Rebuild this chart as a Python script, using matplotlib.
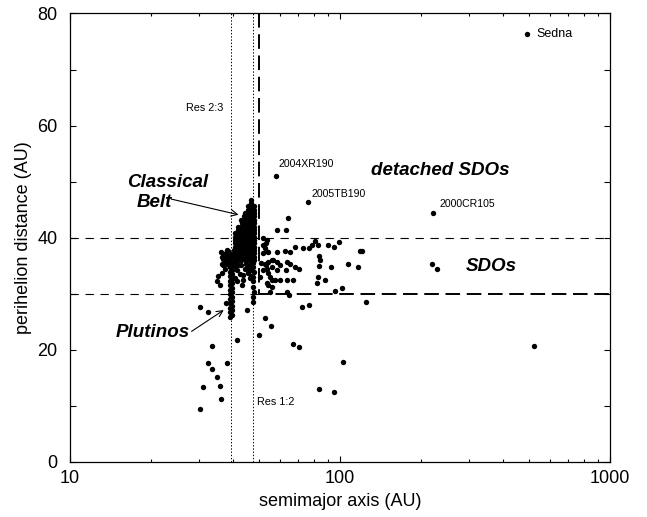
import matplotlib
matplotlib.use('Agg')
import matplotlib.pyplot as plt
from matplotlib.ticker import NullFormatter, FixedLocator

plt.rcParams['font.family'] = ['Liberation Sans', 'DejaVu Sans']
plt.rcParams['lines.scale_dashes'] = False

# region boundaries (AU)
res23 = 39.4
res12 = 47.7
a_detached = 50.0
q_low = 30.0
q_high = 40.0

# plutinos (2:3 resonance column)
plut_a = [39.3, 39.7, 39.3, 39.7, 39.3, 39.7, 39.3, 39.7, 39.3, 39.7,
          39.3, 39.7, 39.3, 39.7, 39.3, 39.7, 39.3, 39.7, 39.3, 39.7,
          39.3, 39.7, 39.3, 39.7, 39.3, 39.7, 39.3, 39.7, 39.5]
plut_q = [25.9, 26.3, 26.7, 27.1, 27.5, 27.9, 28.3, 28.7, 29.1, 29.5,
          29.9, 30.3, 30.7, 31.1, 31.5, 31.9, 32.3, 32.7, 33.1, 33.5,
          33.9, 34.3, 34.7, 35.1, 35.5, 35.9, 36.3, 36.7, 37.1]

# classical belt (dense part)
cb_a = [40.7, 40.9, 40.8, 40.6, 40.9, 40.8, 40.7, 40.9, 40.8,
        41.9, 41.8, 42.0, 41.9, 41.8, 42.0, 41.9, 41.8, 42.0, 41.9, 41.9,
        43.1, 43.0, 43.2, 43.1, 43.0, 43.2, 43.1, 43.0, 43.2, 43.1, 43.0, 43.2, 43.1,
        44.3, 44.2, 44.4, 44.3, 44.2, 44.4, 44.3, 44.2, 44.4, 44.3, 44.2, 44.4, 44.3, 44.2, 44.3,
        45.5, 45.4, 45.6, 45.5, 45.4, 45.6, 45.5, 45.4, 45.6, 45.5, 45.4, 45.6, 45.5, 45.4, 45.6, 45.5, 45.5,
        46.7, 46.6, 46.8, 46.7, 46.6, 46.8, 46.7, 46.6, 46.8, 46.7, 46.6, 46.8, 46.7, 46.6, 46.8, 46.7, 46.6, 46.8, 46.9,
        48.0, 47.9, 48.1, 48.0, 47.9, 48.1, 48.0, 47.9, 48.1, 48.0, 47.9, 48.1, 48.0, 47.9, 48.1, 48.0, 47.9]
cb_q = [36.0, 36.6, 37.2, 37.8, 38.4, 39.0, 39.6, 40.2, 40.8,
        36.0, 36.6, 37.2, 37.8, 38.4, 39.0, 39.6, 40.2, 40.8, 41.4, 42.0,
        36.0, 36.6, 37.2, 37.8, 38.4, 39.0, 39.6, 40.2, 40.8, 41.4, 42.0, 42.6, 43.2,
        36.0, 36.6, 37.2, 37.8, 38.4, 39.0, 39.6, 40.2, 40.8, 41.4, 42.0, 42.6, 43.2, 43.8, 44.4,
        36.0, 36.6, 37.2, 37.8, 38.4, 39.0, 39.6, 40.2, 40.8, 41.4, 42.0, 42.6, 43.2, 43.8, 44.4, 45.0, 45.6,
        36.0, 36.6, 37.2, 37.8, 38.4, 39.0, 39.6, 40.2, 40.8, 41.4, 42.0, 42.6, 43.2, 43.8, 44.4, 45.0, 45.6, 46.2, 46.8,
        36.0, 36.6, 37.2, 37.8, 38.4, 39.0, 39.6, 40.2, 40.8, 41.4, 42.0, 42.6, 43.2, 43.8, 44.4, 45.0, 45.6]

# 1:2 resonance column
r12_a = [47.8, 47.7, 47.9, 47.8, 47.7, 47.8, 47.9, 47.7, 47.8]
r12_q = [35.5, 34.8, 33.9, 33.0, 32.2, 31.3, 30.4, 29.5, 28.6]

# everything else
sc_a = [30.3, 32.4, 37.8, 45.1, 41.7, 38.1, 33.5, 32.4, 33.5, 35.1, 35.9, 31.0, 36.3, 30.3,
        34.9, 35.9, 35.2, 36.7, 37.0, 36.5, 37.8, 36.6, 37.4, 38.2, 36.9, 37.6, 38.4, 37.1,
        37.9, 38.6, 38.8, 37.5, 36.2, 38.3,
        42.0, 44.4, 42.6, 45.8, 41.4, 43.8, 40.8, 46.4, 43.3, 43.8, 45.8, 47.0, 41.0, 46.5,
        40.9, 43.0, 44.9, 46.8, 41.6,
        51.9, 53.4, 52.7, 54.2, 51.9, 55.9, 53.4, 51.9, 54.2, 55.9, 54.2, 54.9, 53.8, 51.7,
        53.1, 52.8, 54.2, 56.6, 58.3, 60.0, 53.8, 56.1, 58.3, 55.0, 57.4, 60.0, 55.9, 53.8,
        63.6, 67.0, 63.1, 68.1, 70.2, 63.6, 64.5, 63.6, 65.5, 50.8, 50.5,
        58.3, 63.1, 64.4,
        58.3, 62.8, 65.5, 68.0, 72.7, 76.7, 78.5, 80.8, 83.1, 90.0, 95.4, 98.9, 118.6, 120.7,
        107.3, 117.0, 83.7, 84.4, 83.7, 92.9, 83.1, 82.5, 88.2, 96.0, 101.6, 124.6, 72.1, 76.7,
        52.6, 55.3, 50.1, 67.0, 70.2, 103.0, 83.7, 95.4, 220.0, 229.0, 525.0]
sc_q = [27.7, 26.8, 28.3, 27.2, 21.7, 17.7, 20.7, 17.7, 16.6, 15.2, 13.6, 13.3, 11.3, 9.4,
        32.2, 31.6, 33.1, 33.7, 35.1, 36.6, 36.7, 35.4, 35.8, 35.3, 36.2, 36.4, 36.1, 37.1,
        37.3, 37.6, 36.8, 34.5, 37.4, 37.9,
        35.1, 34.5, 33.6, 33.8, 32.2, 32.5, 32.9, 32.8, 31.6, 33.4, 34.6, 33.1, 35.3, 35.2,
        35.0, 35.2, 35.3, 34.2, 34.3,
        39.9, 39.0, 38.1, 37.5, 37.2, 36.0, 35.1, 34.2, 33.7, 32.5, 31.6, 30.4, 39.6, 38.7,
        37.7, 35.4, 35.7, 36.0, 35.7, 35.1, 34.5, 34.8, 34.2, 33.0, 32.5, 32.5, 31.3, 31.9,
        32.5, 32.5, 34.2, 34.8, 34.5, 30.4, 29.8, 35.7, 35.4, 35.5, 33.0,
        41.3, 41.3, 43.6,
        37.5, 37.7, 37.5, 38.4, 38.1, 38.1, 38.7, 39.5, 38.7, 38.7, 38.4, 39.2, 37.7, 37.7,
        35.4, 34.7, 36.7, 36.0, 35.0, 34.7, 33.0, 32.0, 32.5, 30.5, 31.0, 28.6, 27.7, 28.0,
        25.6, 24.3, 22.7, 21.0, 20.6, 17.9, 13.1, 12.4, 35.3, 34.4, 20.7]

# named objects
names = ['Sedna', '2004XR190', '2005TB190', '2000CR105']
named_a = [494.0, 57.8, 76.0, 221.7]
named_q = [76.3, 51.1, 46.3, 44.4]
label_a = [535.0, 59.0, 78.6, 233.0]
label_q = [76.4, 53.1, 47.8, 46.0]
label_size = [9, 7.6, 7.6, 7.6]

fig = plt.figure(figsize=(6.47, 5.17), dpi=100)
ax = fig.add_axes([0.1082, 0.1064, 0.8346, 0.8675])

dot = dict(s=15, c='black', linewidths=0, zorder=3)
ax.scatter(plut_a, plut_q, **dot)
ax.scatter(cb_a, cb_q, **dot)
ax.scatter(r12_a, r12_q, **dot)
ax.scatter(sc_a, sc_q, **dot)
ax.scatter(named_a, named_q, **dot)

for n, x, y, fs in zip(names, label_a, label_q, label_size):
    ax.text(x, y, n, fontsize=fs, ha='left', va='center')

# resonance lines
ax.axvline(res23, color='black', lw=0.7, ls=(0, (1, 1.3)), zorder=2)
ax.axvline(res12, color='black', lw=0.7, ls=(0, (1, 1.3)), zorder=2)
ax.text(36.9, 63.2, 'Res 2:3', fontsize=7.8, ha='right', va='center')
ax.text(49.3, 10.7, 'Res 1:2', fontsize=7.8, ha='left', va='center')

# SDO boundaries
ax.axhline(q_high, color='black', lw=0.8, ls=(0, (6, 4.8)), zorder=2)
ax.plot([10, a_detached], [q_low, q_low], color='black', lw=0.8, ls=(0, (6, 4.8)), zorder=2)
ax.plot([a_detached, a_detached, 1000], [80, q_low, q_low], color='black', lw=1.4,
        ls=(0, (10.5, 4.8)), zorder=2)

big = dict(fontsize=13.5, fontweight='bold', fontstyle='italic')
ax.text(22.9, 49.1, 'Classical', ha='center', va='baseline', **big)
ax.text(20.6, 45.5, 'Belt', ha='center', va='baseline', **big)
ax.text(20.2, 22.35, 'Plutinos', ha='center', va='baseline', **big)
ax.text(234.6, 51.2, 'detached SDOs', ha='center', va='baseline', **big)
ax.text(362, 34.1, 'SDOs', ha='center', va='baseline', **big)

arr = dict(arrowstyle='->', lw=0.8, color='black', shrinkA=0, shrinkB=0, mutation_scale=11)
ax.annotate('', xy=(42.1, 44.1), xytext=(23.7, 46.9), arrowprops=arr)
ax.annotate('', xy=(37.1, 27.1), xytext=(28.2, 23.3), arrowprops=arr)

ax.set_xscale('log')
ax.set_xlim(10, 1000)
ax.set_ylim(0, 80)
ax.xaxis.set_major_locator(FixedLocator([10, 100, 1000]))
ax.set_xticklabels(['10', '100', '1000'])
ax.xaxis.set_minor_formatter(NullFormatter())
ax.set_yticks([0, 20, 40, 60, 80])
ax.yaxis.set_minor_locator(FixedLocator([10, 30, 50, 70]))

ax.tick_params(which='both', direction='in', top=True, right=True, width=0.8, labelsize=13)
ax.tick_params(axis='x', which='major', length=4.5, pad=6)
ax.tick_params(axis='x', which='minor', length=2.4)
ax.tick_params(axis='y', which='both', length=4.5, pad=9)
for s in ax.spines.values():
    s.set_linewidth(0.9)

ax.set_xlabel('semimajor axis (AU)', fontsize=13, labelpad=4)
ax.set_ylabel('perihelion distance (AU)', fontsize=13, labelpad=4)

fig.savefig('out.png', dpi=100)
